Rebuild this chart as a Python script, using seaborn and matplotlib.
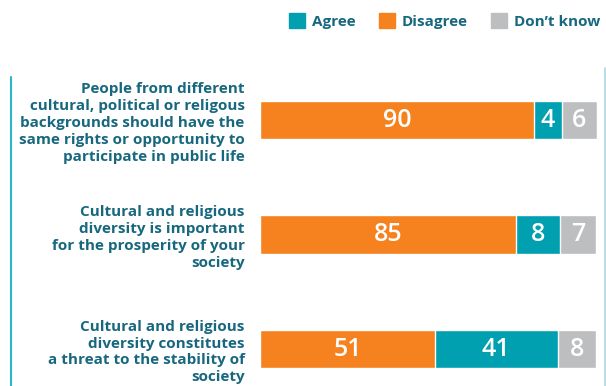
import numpy as np
import pandas as pd
import matplotlib.pyplot as plt
import seaborn as sns

# Survey statements and answer shares (%)
statements = [
    "People from different\ncultural, political or religous\nbackgrounds should have the\nsame rights or opportunity to\nparticipate in public life",
    "Cultural and religious\ndiversity is important\nfor the prosperity of your\nsociety",
    "Cultural and religious\ndiversity constitutes\na threat to the stability of\nsociety",
]
disagree = [90, 85, 51]
agree = [4, 8, 41]
dont_know = [6, 7, 8]

# the source chart does not draw segments to scale: small shares get a
# minimum width; these are the segment lengths as drawn (% of bar length)
disagree_drawn = [81.3, 75.9, 51.9]
agree_drawn = [8.3, 13.1, 36.4]
dont_know_drawn = [10.4, 10.6, 11.4]

orange = "#F5821F"
teal = "#00A0B0"
grey = "#BCBEC0"
text_col = "#17687F"

sns.set_style("white")
plt.rcParams['font.family'] = ['Open Sans', 'DejaVu Sans']

df = pd.DataFrame({"statement": statements,
                   "Disagree": disagree, "Agree": agree, "Don't know": dont_know,
                   "w_dis": disagree_drawn, "w_agr": agree_drawn,
                   "w_dk": dont_know_drawn})
df["c1"] = df["w_dis"]
df["c2"] = df["c1"] + df["w_agr"]
df["c3"] = df["c2"] + df["w_dk"]

fig = plt.figure(figsize=(6.06, 3.86), dpi=100)
ax = fig.add_axes([260 / 606, 0, 337 / 606, 1])

# stacked bars: draw cumulative totals back to front
for col, color in [("c3", grey), ("c2", teal), ("c1", orange)]:
    sns.barplot(data=df, x=col, y="statement", color=color, width=0.333,
                saturation=1, ax=ax, orient="h")

# segment values
for i, row in df.iterrows():
    left = 0
    for key, wkey in [("Disagree", "w_dis"), ("Agree", "w_agr"),
                      ("Don't know", "w_dk")]:
        w = row[wkey]
        ax.text(left + w / 2, i, str(row[key]), ha="center", va="center",
                color="white", fontsize=18, fontweight="semibold")
        left += w

ax.set_xlim(0, 100)
ax.set_ylim(2.323, -1.048)
ax.set_xlabel("")
ax.set_ylabel("")
ax.set_xticks([])
ax.tick_params(axis="y", length=0, pad=11)
for lab in ax.get_yticklabels():
    lab.set_fontsize(11)
    lab.set_fontweight("bold")
    lab.set_color(text_col)
    lab.set_linespacing(1.27)
sns.despine(ax=ax, left=True, bottom=True)

# thin framing lines
fig.add_artist(plt.Line2D([11 / 606, 11 / 606], [0, 1 - 77 / 386],
                          color="#2BB5C5", lw=1.5))
fig.add_artist(plt.Line2D([605 / 606, 605 / 606], [0, 1 - 68 / 386],
                          color="#A9D9DE", lw=1.2))

# legend
handles = [plt.Rectangle((0, 0), 1, 1, color=c) for c in [teal, orange, grey]]
leg = fig.legend(handles, ["Agree", "Disagree", "Don\u2019t know"], ncol=3,
                 loc="center right", bbox_to_anchor=(1.0, 1 - 21 / 386),
                 frameon=False, handlelength=1.05, handleheight=1.05,
                 handletextpad=0.45, columnspacing=1.5, borderaxespad=0,
                 prop={"size": 11, "weight": "bold"})
for t in leg.get_texts():
    t.set_color(text_col)

fig.savefig("out.png", dpi=100)
